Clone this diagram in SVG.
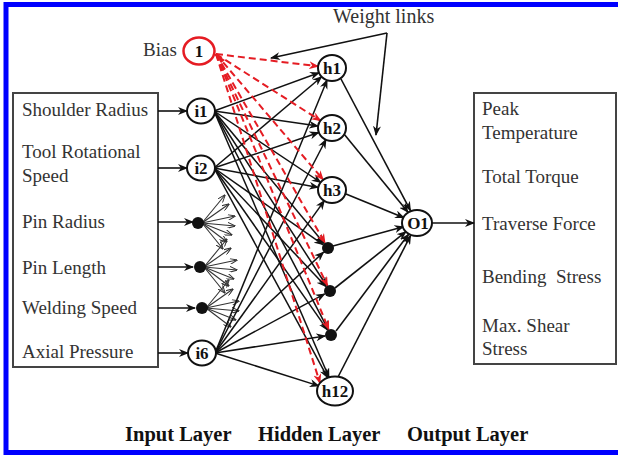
<svg xmlns="http://www.w3.org/2000/svg" width="618" height="457" viewBox="0 0 618 457">
<style>
.t{font-family:"Liberation Serif","Times New Roman",serif;font-size:19px;fill:#333}
.lab{font-family:"Liberation Serif","Times New Roman",serif;font-size:20.5px;font-weight:bold;fill:#111}
.nl{font-family:"Liberation Serif","Times New Roman",serif;font-size:17px;font-weight:bold;fill:#111;text-anchor:middle}
.node{fill:#fff;stroke:#111;stroke-width:2}
.dot{fill:#111}
.w{stroke:#111;stroke-width:1.5;fill:none;marker-end:url(#ah)}
.f{stroke:#333;stroke-width:1.1;fill:none;marker-end:url(#as)}
.r{stroke:#e51c23;stroke-width:2;stroke-dasharray:7 4;fill:none;marker-end:url(#ar)}
.o{stroke:#111;stroke-width:1.6;fill:none;marker-end:url(#ah)}
</style>
<defs>
<marker id="ah" markerUnits="userSpaceOnUse" markerWidth="10" markerHeight="8" refX="9" refY="4" orient="auto"><path d="M0,0 L10,4 L0,8 L3,4 z" fill="#111"/></marker>
<marker id="as" markerUnits="userSpaceOnUse" markerWidth="8" markerHeight="6" refX="7.5" refY="3" orient="auto"><path d="M0,0 L8,3 L0,6" fill="none" stroke="#333" stroke-width="1"/></marker>
<marker id="ar" markerUnits="userSpaceOnUse" markerWidth="10" markerHeight="8" refX="9" refY="4" orient="auto"><path d="M0,0 L10,4 L0,8 L3,4 z" fill="#e51c23"/></marker>
</defs>
<rect x="0" y="0" width="618" height="457" fill="#fff"/>
<rect x="6" y="4.5" width="620" height="448" fill="#fff" stroke="#0000ff" stroke-width="5"/>

<g id="input-box">
<rect x="13" y="93" width="145" height="274" fill="#fff" stroke="#444" stroke-width="2"/>
<text class="t" x="22" y="116">Shoulder Radius</text>
<text class="t" x="22" y="158">Tool Rotational</text>
<text class="t" x="22" y="182">Speed</text>
<text class="t" x="22" y="228">Pin Radius</text>
<text class="t" x="22" y="274">Pin Length</text>
<text class="t" x="22" y="314">Welding Speed</text>
<text class="t" x="22" y="358">Axial Pressure</text>
</g>

<g id="output-box">
<rect x="474" y="93" width="142" height="271" fill="#fff" stroke="#444" stroke-width="2"/>
<text class="t" x="482" y="115">Peak</text>
<text class="t" x="482" y="139">Temperature</text>
<text class="t" x="482" y="183">Total Torque</text>
<text class="t" x="482" y="230">Traverse Force</text>
<text class="t" x="482" y="283" style="white-space:pre">Bending  Stress</text>
<text class="t" x="482" y="332">Max. Shear</text>
<text class="t" x="482" y="355">Stress</text>
</g>

<g id="connectors">
<line class="o" x1="158" y1="111" x2="187" y2="111"/>
<line class="o" x1="158" y1="168" x2="187" y2="168"/>
<line class="o" x1="158" y1="222" x2="193" y2="222"/>
<line class="o" x1="158" y1="267" x2="193" y2="267"/>
<line class="o" x1="158" y1="308" x2="195" y2="308"/>
<line class="o" x1="158" y1="353" x2="188" y2="353"/>
<g transform="translate(198,223)">
<line class="f" x1="4" y1="0" x2="27" y2="-28"/><line class="f" x1="4" y1="0" x2="31" y2="-19"/><line class="f" x1="4" y1="0" x2="37" y2="-7"/><line class="f" x1="4" y1="0" x2="37" y2="3"/><line class="f" x1="4" y1="0" x2="34" y2="12"/><line class="f" x1="4" y1="0" x2="29" y2="19"/><line class="f" x1="4" y1="0" x2="25" y2="26"/>
</g>
<g transform="translate(200,267)">
<line class="f" x1="4" y1="0" x2="27" y2="-28"/><line class="f" x1="4" y1="0" x2="31" y2="-19"/><line class="f" x1="4" y1="0" x2="37" y2="-7"/><line class="f" x1="4" y1="0" x2="37" y2="3"/><line class="f" x1="4" y1="0" x2="34" y2="12"/><line class="f" x1="4" y1="0" x2="29" y2="19"/><line class="f" x1="4" y1="0" x2="25" y2="26"/>
</g>
<g transform="translate(202,308)">
<line class="f" x1="4" y1="0" x2="27" y2="-28"/><line class="f" x1="4" y1="0" x2="31" y2="-19"/><line class="f" x1="4" y1="0" x2="37" y2="-7"/><line class="f" x1="4" y1="0" x2="37" y2="3"/><line class="f" x1="4" y1="0" x2="34" y2="12"/><line class="f" x1="4" y1="0" x2="29" y2="19"/>
</g>
<line class="w" x1="214" y1="111" x2="319" y2="72.8"/>
<line class="w" x1="214" y1="111" x2="318" y2="126"/>
<line class="w" x1="214" y1="111" x2="320.8" y2="182.5"/>
<line class="w" x1="214" y1="111" x2="324.2" y2="243.4"/>
<line class="w" x1="214" y1="111" x2="326.7" y2="286"/>
<line class="w" x1="214" y1="111" x2="328.2" y2="329.7"/>
<line class="w" x1="214" y1="111" x2="329" y2="377.2"/>
<line class="w" x1="214" y1="168" x2="321.7" y2="76.7"/>
<line class="w" x1="214" y1="168" x2="318.7" y2="132.5"/>
<line class="w" x1="214" y1="168" x2="318.2" y2="187.4"/>
<line class="w" x1="214" y1="168" x2="323.1" y2="244.6"/>
<line class="w" x1="214" y1="168" x2="325.9" y2="286.6"/>
<line class="w" x1="214" y1="168" x2="327.6" y2="330.1"/>
<line class="w" x1="214" y1="168" x2="327.8" y2="377.8"/>
<line class="w" x1="215" y1="353" x2="327.1" y2="80"/>
<line class="w" x1="215" y1="353" x2="326" y2="139.5"/>
<line class="w" x1="215" y1="353" x2="324.4" y2="200.6"/>
<line class="w" x1="215" y1="353" x2="323.6" y2="252.1"/>
<line class="w" x1="215" y1="353" x2="324.7" y2="293.9"/>
<line class="w" x1="215" y1="353" x2="325.1" y2="335.9"/>
<line class="w" x1="215" y1="353" x2="318.8" y2="385.9"/>
<line class="r" x1="216" y1="54" x2="318.1" y2="66.3"/>
<line class="r" x1="216" y1="54" x2="320.6" y2="120.7"/>
<line class="r" x1="216" y1="54" x2="323.2" y2="179.7"/>
<line class="r" x1="216" y1="54" x2="325" y2="242.8"/>
<line class="r" x1="216" y1="54" x2="327.4" y2="285.6"/>
<line class="r" x1="216" y1="54" x2="328.7" y2="329.4"/>
<line class="r" x1="216" y1="54" x2="320" y2="383"/>
<path d="M225,60 L214,53 L221,63 z" fill="#e51c23"/>
<line class="o" x1="341" y1="79" x2="410.5" y2="210.6"/>
<line class="o" x1="344" y1="134" x2="408.1" y2="212.2"/>
<line class="o" x1="346" y1="194" x2="404" y2="217.7"/>
<line class="o" x1="333" y1="246" x2="403.5" y2="226.7"/>
<line class="o" x1="335" y1="288" x2="406" y2="231.7"/>
<line class="o" x1="336" y1="331" x2="408.6" y2="234.2"/>
<line class="o" x1="338" y1="377" x2="410.6" y2="235.5"/>
<line class="o" x1="432" y1="223" x2="474" y2="223"/>
<line class="o" x1="387" y1="33" x2="271" y2="58"/>
<line class="o" x1="387" y1="33" x2="376" y2="135"/>
</g>

<g id="bias"><text class="t" x="143" y="56">Bias</text><ellipse cx="199" cy="51" rx="15.5" ry="13.5" fill="#fff" stroke="#e51c23" stroke-width="2.5"/><text class="nl" x="199" y="57">1</text></g>
<g id="i1"><ellipse class="node" cx="201" cy="111" rx="14" ry="12.5"/><text class="nl" x="201" y="117">i1</text></g>
<g id="i2"><ellipse class="node" cx="201" cy="168" rx="14" ry="12.5"/><text class="nl" x="201" y="174">i2</text></g>
<g id="i3"><circle class="dot" cx="198" cy="223" r="6"/></g>
<g id="i4"><circle class="dot" cx="200" cy="267" r="6"/></g>
<g id="i5"><circle class="dot" cx="202" cy="308" r="6"/></g>
<g id="i6"><ellipse class="node" cx="202" cy="353" rx="14" ry="12.5"/><text class="nl" x="202" y="359">i6</text></g>
<g id="h1"><ellipse class="node" cx="332" cy="68" rx="14" ry="13"/><text class="nl" x="332" y="74">h1</text></g>
<g id="h2"><ellipse class="node" cx="332" cy="128" rx="14" ry="13"/><text class="nl" x="332" y="134">h2</text></g>
<g id="h3"><ellipse class="node" cx="332" cy="190" rx="14" ry="13"/><text class="nl" x="332" y="196">h3</text></g>
<g id="h4"><circle class="dot" cx="328" cy="248" r="6"/></g>
<g id="h5"><circle class="dot" cx="330" cy="291" r="6"/></g>
<g id="h6"><circle class="dot" cx="331" cy="335" r="6"/></g>
<g id="h12"><ellipse class="node" cx="335" cy="391" rx="18" ry="14.5"/><text class="nl" x="335" y="397">h12</text></g>
<g id="O1"><ellipse class="node" cx="417" cy="223" rx="15" ry="13"/><text class="nl" x="418" y="229">O1</text></g>

<text class="t" x="333" y="23" style="font-size:20px">Weight links</text>
<text class="lab" x="125" y="441">Input Layer</text>
<text class="lab" x="258" y="441">Hidden Layer</text>
<text class="lab" x="407" y="441">Output Layer</text>
</svg>
